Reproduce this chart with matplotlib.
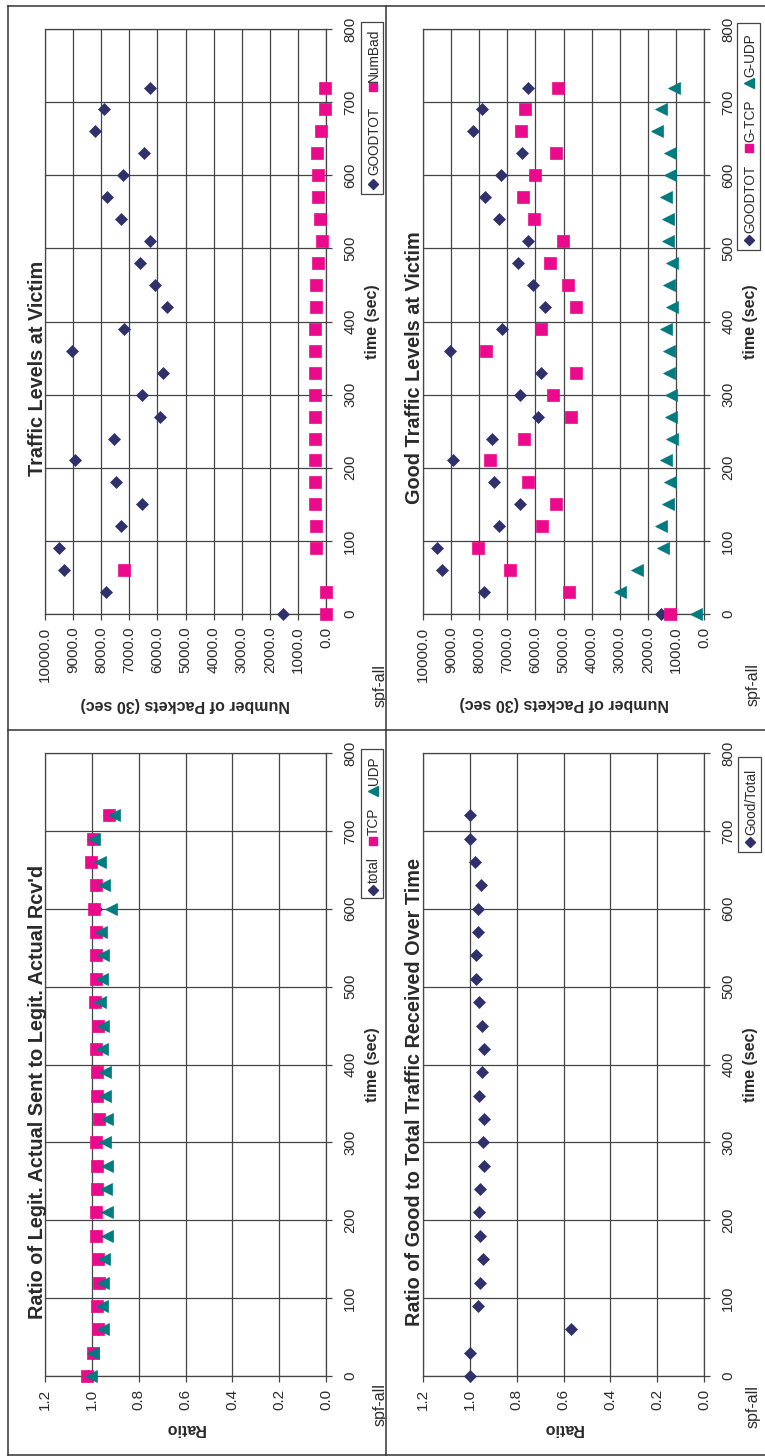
import numpy as np
import matplotlib
matplotlib.use("Agg")
import matplotlib.pyplot as plt
from matplotlib.patches import Rectangle
from matplotlib.lines import Line2D
from matplotlib.transforms import Bbox, TransformedBbox

plt.rcParams["font.family"] = ["Liberation Sans", "DejaVu Sans"]

# ---- data ----
time_s = [0, 30, 60, 90, 120, 150, 180, 210, 240, 270, 300, 330, 360,
          390, 420, 450, 480, 510, 540, 570, 600, 630, 660, 690, 720]

goodtot = [1530, 7830, 9320, 9490, 7310, 6540, 7480, 8950, 7530, 5920, 6560, 5800, 9040,
           7190, 5670, 6080, 6620, 6280, 7310, 7800, 7220, 6480, 8210, 7900, 6260]
numbad = [10, 10, 7190, 360, 360, 380, 380, 380, 380, 380, 380, 380, 380,
          380, 360, 360, 270, 150, 210, 300, 300, 310, 170, 30, 30]
g_tcp = [1210, 4820, 6910, 8030, 5770, 5250, 6260, 7610, 6390, 4740, 5380, 4550, 7760,
         5810, 4540, 4830, 5490, 5010, 6050, 6440, 6010, 5250, 6520, 6370, 5190]
g_udp = [300, 3000, 2400, 1450, 1540, 1290, 1210, 1350, 1130, 1190, 1180, 1240, 1260,
         1370, 1130, 1240, 1130, 1270, 1270, 1360, 1200, 1210, 1680, 1540, 1080]

ratio_total = [1.018, 0.995, 0.972, 0.975, 0.968, 0.968, 0.978, 0.978, 0.973, 0.974, 0.977, 0.964, 0.974,
               0.975, 0.978, 0.971, 0.982, 0.980, 0.976, 0.980, 0.981, 0.980, 0.998, 0.993, 0.925]
ratio_tcp = [1.022, 0.996, 0.975, 0.979, 0.971, 0.972, 0.984, 0.984, 0.978, 0.979, 0.982, 0.968, 0.978,
             0.979, 0.981, 0.975, 0.986, 0.984, 0.981, 0.984, 0.989, 0.984, 1.002, 0.994, 0.928]
ratio_udp = [1.004, 0.994, 0.951, 0.958, 0.951, 0.947, 0.934, 0.934, 0.941, 0.937, 0.942, 0.937, 0.944,
             0.944, 0.958, 0.951, 0.965, 0.957, 0.951, 0.962, 0.918, 0.947, 0.965, 0.991, 0.905]
good_over_total = [1.000, 1.000, 0.566, 0.965, 0.955, 0.945, 0.955, 0.962, 0.955, 0.939, 0.945, 0.938, 0.962,
                   0.950, 0.939, 0.946, 0.962, 0.975, 0.972, 0.966, 0.963, 0.953, 0.980, 1.000, 0.999]

packet_ticks = [0, 1000, 2000, 3000, 4000, 5000, 6000, 7000, 8000, 9000, 10000]
ratio_ticks = [0.0, 0.2, 0.4, 0.6, 0.8, 1.0, 1.2]
time_ticks = [0, 100, 200, 300, 400, 500, 600, 700, 800]

# ---- style ----
_C_NAVY = "#30306a"
_C_PINK = "#ec0a8c"
_C_TEAL = "#007b80"
_C_LINE = "#444444"
_C_TEXT = "#2a2a2a"

_MK = {
    "diamond": dict(marker="D", ms=6.2, color=_C_NAVY),
    "square": dict(marker="s", ms=8.2, color=_C_PINK),
    "tri": dict(marker="<", ms=8.2, color=_C_TEAL),
}
_MK_LEG = {"diamond": 5.0, "square": 6.4, "tri": 7.0}

W, H = 765, 1456
fig = plt.figure(figsize=(W / 100, H / 100), dpi=100)


def fx(x):
    return x / W


def fy(y):
    return 1 - y / H


def panel_axes(x0, y0, x1, y1, vticks):
    """Page is rotated 90 deg: value runs right-to-left, time runs upward."""
    ax = fig.add_axes([fx(x0), fy(y1), (x1 - x0) / W, (y1 - y0) / H])
    ax.set_xlim(vticks[-1], vticks[0])
    ax.set_ylim(time_ticks[0], time_ticks[-1])
    ax.set_xticks(vticks)
    ax.set_xticklabels([f"{v:.1f}" for v in vticks])
    ax.set_yticks(time_ticks)
    ax.yaxis.tick_right()
    ax.grid(True, color=_C_LINE, lw=0.9)
    ax.set_axisbelow(True)
    ax.tick_params(axis="x", direction="out", length=4, width=0.9, pad=5, labelsize=11,
                   labelrotation=90, color=_C_LINE, labelcolor=_C_TEXT)
    ax.tick_params(axis="y", direction="out", length=4, width=0.9, pad=8.5, labelsize=10.8,
                   labelrotation=90, color=_C_LINE, labelcolor=_C_TEXT)
    for t in ax.yaxis.get_major_ticks():
        t.label2.set_va("center")
    for s in ax.spines.values():
        s.set_color(_C_LINE)
        s.set_linewidth(0.9)
    return ax


def series(ax, vals, kind):
    ax.plot(vals, time_s, ls="none", mec=_MK[kind]["color"], mew=0.5, clip_on=False,
            zorder=3, **_MK[kind])


def vtext(x, y, s, ha="center", **kw):
    return fig.text(fx(x), fy(y), s, rotation=90, rotation_mode="anchor",
                    ha=ha, va="baseline", color=_C_TEXT, **kw)


def legend(box, mx, entries, base_x):
    x0, y0, x1, y1 = box
    fig.add_artist(Rectangle((fx(x0), fy(y1)), (x1 - x0) / W, (y1 - y0) / H,
                             transform=fig.transFigure, facecolor="white",
                             edgecolor=_C_LINE, lw=0.9))
    for my, ty, label, kind in entries:
        fig.add_artist(Line2D([fx(mx)], [fy(my)], transform=fig.transFigure, ls="none",
                              marker=_MK[kind]["marker"], ms=_MK_LEG[kind],
                              color=_MK[kind]["color"], mec=_MK[kind]["color"]))
        vtext(base_x, ty, label, ha="left", fontsize=9.8)


left_clip = TransformedBbox(Bbox.from_extents(0, 0, fx(385), 1), fig.transFigure)

# ---- top-left: Traffic Levels at Victim ----
ax = panel_axes(45, 29, 326, 614, packet_ticks)
series(ax, goodtot, "diamond")
series(ax, numbad, "square")
vtext(43, 368, "Traffic Levels at Victim", fontsize=14.3, fontweight="bold")
fig.text(fx(185), fy(704), "Number of Packets (30 sec)", rotation=180, ha="center",
         va="center", fontsize=11.5, fontweight="bold", color=_C_TEXT)
vtext(376.5, 322, "time (sec)", fontsize=11.5, fontweight="bold")
t = vtext(384.5, 686, "spf-all", fontsize=11.5)
t.set_clip_box(left_clip)
t.set_clip_on(True)
legend((360.7, 22.3, 383.3, 194), 372.5,
       [(184.3, 175, "GOODTOT", "diamond"), (87.3, 82, "NumBad", "square")], 378)

# ---- top-right: Good Traffic Levels at Victim ----
ax = panel_axes(423, 29, 704, 614, packet_ticks)
series(ax, goodtot, "diamond")
series(ax, g_tcp, "square")
series(ax, g_udp, "tri")
vtext(420, 367.5, "Good Traffic Levels at Victim", fontsize=14.3, fontweight="bold")
fig.text(fx(564), fy(703), "Number of Packets (30 sec)", rotation=180, ha="center",
         va="center", fontsize=11.5, fontweight="bold", color=_C_TEXT)
vtext(755, 322, "time (sec)", fontsize=11.5, fontweight="bold")
vtext(757.5, 685, "spf-all", fontsize=11.5)
legend((737.3, 22.7, 760, 250), 749,
       [(240, 233, "GOODTOT", "diamond"), (148, 142, "G-TCP", "square"),
        (83, 77, "G-UDP", "tri")], 754.5)

# ---- bottom-left: sent vs received ratio ----
ax = panel_axes(45, 753, 326, 1376, ratio_ticks)
series(ax, ratio_total, "diamond")
series(ax, ratio_tcp, "square")
series(ax, ratio_udp, "tri")
vtext(43.3, 1091.5, "Ratio of Legit. Actual Sent to Legit. Actual Rcv'd",
      fontsize=14.3, fontweight="bold")
fig.text(fx(185), fy(1428), "Ratio", rotation=180, ha="center", va="center",
         fontsize=11.5, fontweight="bold", color=_C_TEXT)
vtext(377, 1065, "time (sec)", fontsize=11.5, fontweight="bold")
t = vtext(384.5, 1405, "spf-all", fontsize=11.5)
t.set_clip_box(left_clip)
t.set_clip_on(True)
legend((360.7, 748.7, 383, 898), 372.5,
       [(889.7, 883, "total", "diamond"), (841, 835, "TCP", "square"),
        (791, 785, "UDP", "tri")], 378)

# ---- bottom-right: good / total ----
ax = panel_axes(423, 753, 704, 1376, ratio_ticks)
series(ax, good_over_total, "diamond")
vtext(420, 1092, "Ratio of Good to Total Traffic Received Over Time",
      fontsize=14.3, fontweight="bold")
fig.text(fx(563), fy(1428), "Ratio", rotation=180, ha="center", va="center",
         fontsize=11.5, fontweight="bold", color=_C_TEXT)
vtext(755, 1065, "time (sec)", fontsize=11.5, fontweight="bold")
vtext(757.5, 1406.5, "spf-all", fontsize=11.5)
legend((738.3, 757, 760.7, 852), 750, [(842, 835, "Good/Total", "diamond")], 755.5)

# ---- page frame and panel dividers ----
_FR = dict(transform=fig.transFigure, color="#333333", lw=1.1)
fig.add_artist(Line2D([fx(8), fx(770)], [fy(5.5), fy(5.5)], **_FR))
fig.add_artist(Line2D([fx(8), fx(770)], [fy(1455), fy(1455)], **_FR))
fig.add_artist(Line2D([fx(8), fx(8)], [fy(5.5), fy(1455)], **_FR))
fig.add_artist(Line2D([fx(385.5), fx(385.5)], [fy(5.5), fy(1455)], **_FR))
fig.add_artist(Line2D([fx(8), fx(770)], [fy(730), fy(730)], **_FR))

fig.savefig("out.png", dpi=100)
plt.close(fig)
